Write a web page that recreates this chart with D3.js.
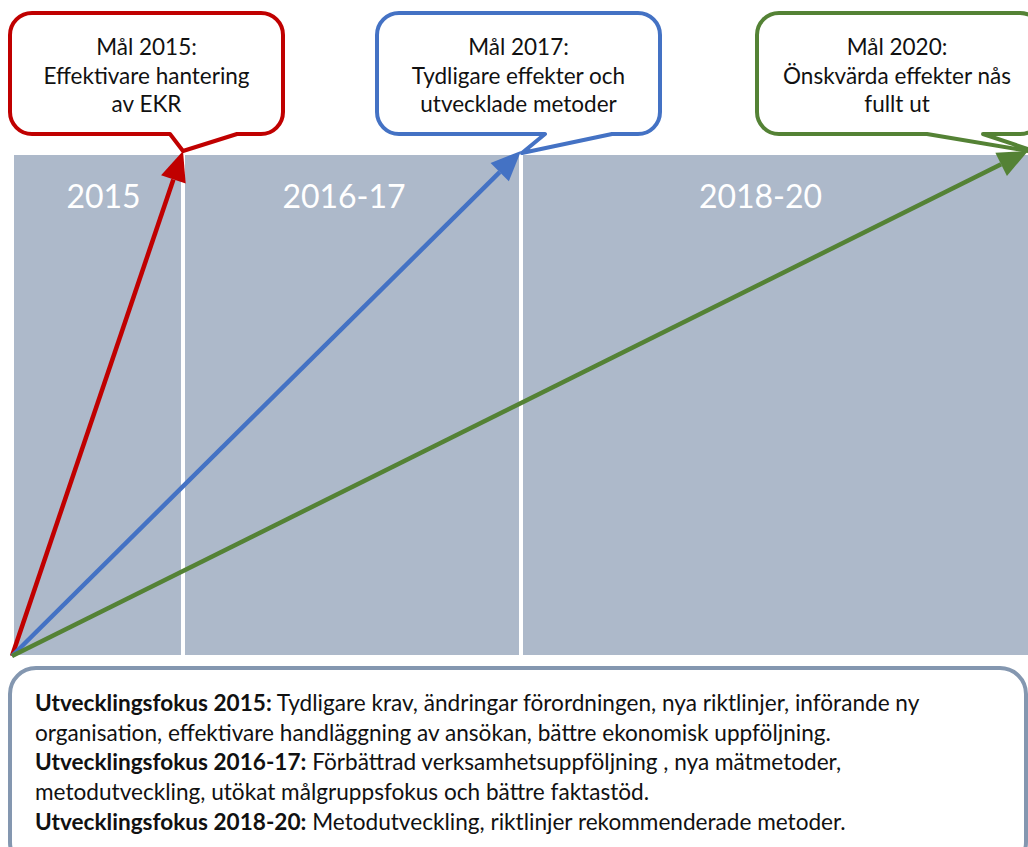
<!DOCTYPE html>
<html>
<head>
<meta charset="utf-8">
<script src="https://cdn.jsdelivr.net/npm/d3@7"></script>
<style>
  body { margin: 0; background: #fff; }
  text { font-family: Lato, "Open Sans", sans-serif; }
</style>
</head>
<body>
<script>
// Data
var periods = ["2015", "2016-17", "2018-20"];
var periodStart = [2015, 2016, 2018];
var periodEnd = [2016, 2018, 2021];
var goalYears = [2016, 2018, 2021];      // arrow reaches end of each period
var goalColors = ["#C00000", "#4472C4", "#548235"];
var goalTitles = ["Mål 2015:", "Mål 2017:", "Mål 2020:"];
var goalLines = [
  ["Effektivare hantering", "av EKR"],
  ["Tydligare effekter och", "utvecklade metoder"],
  ["Önskvärda effekter nås", "fullt ut"]
];
var focusHeads = ["Utvecklingsfokus 2015:", null, "Utvecklingsfokus 2016-17:", null, "Utvecklingsfokus 2018-20:"];
var focusTexts = [
  " Tydligare krav, ändringar förordningen, nya riktlinjer, införande ny",
  "organisation, effektivare handläggning av ansökan, bättre ekonomisk uppföljning.",
  " Förbättrad verksamhetsuppföljning , nya mätmetoder,",
  "metodutveckling, utökat målgruppsfokus och bättre faktastöd.",
  " Metodutveckling, riktlinjer rekommenderade metoder."
];

var W = 1028, H = 847;
var svg = d3.select("body").append("svg").attr("width", W).attr("height", H);

// scales
var x = d3.scaleLinear().domain([2015, 2021]).range([14, 1028]);
var y = d3.scaleLinear().domain([0, 1]).range([655, 155]);

// gray period panels
var gap = 2;
svg.selectAll("rect.panel").data(periods).enter().append("rect")
  .attr("class", "panel")
  .attr("x", (d, i) => x(periodStart[i]) + (i ? gap : 0))
  .attr("y", y(1))
  .attr("width", (d, i) => x(periodEnd[i]) - x(periodStart[i]) - (i ? gap : 0) - (i < 2 ? gap : 0))
  .attr("height", y(0) - y(1))
  .style("fill", "#ADB9CA");

// period labels (shifted a bit like the original)
var labelShift = [5, -8, -14];
svg.selectAll("text.period").data(periods).enter().append("text")
  .attr("class", "period")
  .attr("x", (d, i) => (x(periodStart[i]) + x(periodEnd[i])) / 2 + labelShift[i])
  .attr("y", y(1) + 53)
  .attr("text-anchor", "middle")
  .style("fill", "#fff")
  .style("font-size", "32px")
  .text(d => d);

// arrows from origin to end of each period
var ox = x(2015) - 2, oy = y(0) + 1;
var headLen = 30, headHalf = 13;
goalYears.forEach(function(g, i) {
  var tx = Math.min(x(g), W), ty = y(1) - 4;
  var dx = tx - ox, dy = ty - oy, len = Math.sqrt(dx * dx + dy * dy);
  var ux = dx / len, uy = dy / len;
  var bx = tx - ux * headLen, by = ty - uy * headLen;
  svg.append("line")
    .attr("x1", ox).attr("y1", oy).attr("x2", bx).attr("y2", by)
    .style("stroke", goalColors[i]).style("stroke-width", 4.5);
  svg.append("polygon")
    .attr("points", [[tx, ty], [bx - uy * headHalf, by + ux * headHalf], [bx + uy * headHalf, by - ux * headHalf]].join(" "))
    .style("fill", goalColors[i]);
});

// callout boxes
var boxLeft = [10, 377, 757], boxWidth = 273, boxTop = 13, boxBottom = 134, r = 22;
var tailA = [160, 168, 170], tailB = [227, 235, 226];   // tail base offsets from box left
var tailTip = [[183, 151], [522, 153], [1040, 153]];

function calloutPath(l, w, a, b, tip) {
  var p = d3.path(), rgt = l + w;
  p.moveTo(l + r, boxTop);
  p.lineTo(rgt - r, boxTop);
  p.arcTo(rgt, boxTop, rgt, boxTop + r, r);
  p.lineTo(rgt, boxBottom - r);
  p.arcTo(rgt, boxBottom, rgt - r, boxBottom, r);
  p.lineTo(l + b, boxBottom);
  p.lineTo(tip[0], tip[1]);
  p.lineTo(l + a, boxBottom);
  p.lineTo(l + r, boxBottom);
  p.arcTo(l, boxBottom, l, boxBottom - r, r);
  p.lineTo(l, boxTop + r);
  p.arcTo(l, boxTop, l + r, boxTop, r);
  p.closePath();
  return p.toString();
}

goalTitles.forEach(function(t, i) {
  var w = i === 2 ? 285 : (i === 1 ? 283 : boxWidth);
  svg.append("path")
    .attr("d", calloutPath(boxLeft[i], w, tailA[i], tailB[i], tailTip[i]))
    .style("fill", "#fff")
    .style("stroke", goalColors[i])
    .style("stroke-width", 4)
    .style("stroke-linejoin", "round");
  var cx = boxLeft[i] + (i === 2 ? 140 : w / 2);
  var tx = svg.append("text")
    .attr("text-anchor", "middle")
    .style("font-size", "22.5px")
    .style("fill", "#111");
  [t].concat(goalLines[i]).forEach(function(line, k) {
    tx.append("tspan").attr("x", cx).attr("y", 55 + k * 28.5).text(line);
  });
});

// bottom text box
svg.append("rect")
  .attr("x", 10).attr("y", 668)
  .attr("width", 1016).attr("height", 200)
  .attr("rx", 26)
  .style("fill", "#fff")
  .style("stroke", "#8497B0")
  .style("stroke-width", 4);

var focus = svg.append("text").style("font-size", "22.6px").style("fill", "#111");
focusTexts.forEach(function(t, i) {
  var line = focus.append("tspan").attr("x", 35).attr("y", 711 + i * 29.7);
  if (focusHeads[i]) {
    line.append("tspan").style("font-weight", "bold").text(focusHeads[i]);
    focus.append("tspan").text(t);
  } else {
    line.text(t);
  }
});
</script>
</body>
</html>
